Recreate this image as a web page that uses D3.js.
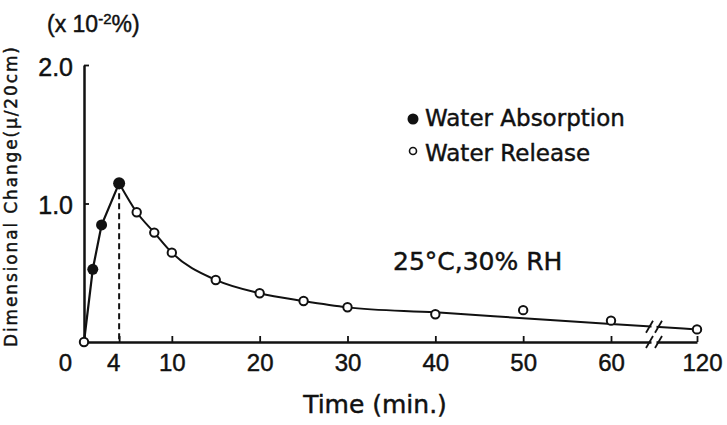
<!DOCTYPE html>
<html lang="en">
<head>
<meta charset="utf-8">
<title>Dimensional change</title>
<script src="https://d3js.org/d3.v7.min.js"></script>
<style>
  body { margin: 0; padding: 0; background: #fff; overflow: hidden; }
  svg { display: block; }
  text { stroke: #111; stroke-width: 0.45px; }
</style>
</head>
<body>
<svg id="chart"></svg>
<script>
// absorption points (filled) and release points (open)
const absorbTime = [1, 2, 4];
const absorbValue = [0.525, 0.845, 1.147];

const releaseTime = [0, 6, 8, 10, 15, 20, 25, 30, 40, 50, 60, 120];
const releaseValue = [0, 0.937, 0.79, 0.645, 0.448, 0.352, 0.296, 0.251, 0.20, 0.23, 0.154, 0.091];

// hand-drawn fitted curve through the release data
const fitTime = [4, 6, 8, 10, 15, 20, 25, 30, 40, 50, 60, 120];
const fitValue = [1.147, 0.937, 0.79, 0.645, 0.448, 0.352, 0.296, 0.25, 0.214, 0.172, 0.13, 0.091];

// rising part: straight segments from the origin to the peak
const riseTime = [0, 1, 2, 4];
const riseValue = [0, 0.525, 0.845, 1.147];

const xTicks = [0, 4, 10, 20, 30, 40, 50, 60, 120];
const yTicks = [1.0, 2.0];
const breakAt = 90;

const width = 727, height = 425;
const svg = d3.select("#chart").attr("width", width).attr("height", height);
svg.append("rect").attr("width", width).attr("height", height).attr("fill", "#fff");

// x axis is broken between 60 and 120
const x = d3.scaleLinear().domain([0, 60, 120]).range([84, 611, 697]);
const y = d3.scaleLinear().domain([0, 2]).range([342, 65]);

const ink = "#111";

// axes
const xAxis = svg.append("g")
    .attr("transform", `translate(0,${y(0)})`)
    .call(d3.axisBottom(x).tickValues(xTicks).tickSizeInner(-6).tickSizeOuter(0).tickPadding(12));
xAxis.select(".domain").attr("stroke", ink).attr("stroke-width", 2.5);
xAxis.selectAll(".tick line").attr("stroke", ink).attr("stroke-width", 1.8);
xAxis.selectAll(".tick").filter(d => d === 0).select("line").remove();
xAxis.selectAll(".tick text")
    .attr("font-family", "'Liberation Sans', Arial, sans-serif")
    .attr("font-size", 24)
    .attr("fill", ink)
    .attr("dx", d => d === 0 ? -19 : d === 4 ? -6 : d === 120 ? 5 : 0);

const yAxis = svg.append("g")
    .attr("transform", `translate(${x(0)},0)`)
    .call(d3.axisLeft(y).tickValues(yTicks).tickSizeInner(-5).tickSizeOuter(0).tickPadding(11)
        .tickFormat(d3.format(".1f")));
yAxis.select(".domain").attr("stroke", ink).attr("stroke-width", 2.5);
yAxis.selectAll(".tick line").attr("stroke", ink).attr("stroke-width", 1.8);
yAxis.selectAll(".tick text")
    .attr("font-family", "'Liberation Sans', Arial, sans-serif")
    .attr("font-size", 25)
    .attr("fill", ink)
    .attr("dy", "0.4em");

// dashed drop line from the peak
svg.append("line")
    .attr("x1", x(4)).attr("x2", x(4))
    .attr("y1", y(1.147)).attr("y2", y(0))
    .attr("stroke", ink).attr("stroke-width", 2)
    .attr("stroke-dasharray", "6,4");

// rising line
const riseLine = d3.line().x((d, i) => x(riseTime[i])).y((d, i) => y(riseValue[i]));
svg.append("path")
    .attr("d", riseLine(riseValue))
    .attr("fill", "none").attr("stroke", ink).attr("stroke-width", 2.2);

// fitted release curve
const fitLine = d3.line()
    .x((d, i) => x(fitTime[i]))
    .y((d, i) => y(fitValue[i]))
    .curve(d3.curveMonotoneX);
svg.append("path")
    .attr("d", fitLine(fitValue))
    .attr("fill", "none").attr("stroke", ink).attr("stroke-width", 2);

// axis break marks (on the curve and on the axis)
const bx = x(breakAt);
const fitAtBreak = fitValue[10] + (fitValue[11] - fitValue[10]) * (bx - x(60)) / (x(120) - x(60));
const breakRows = [y(fitAtBreak), y(0)];
breakRows.forEach(by => {
  svg.append("rect")
      .attr("x", bx - 2.5).attr("y", by - 4).attr("width", 5).attr("height", 8)
      .attr("fill", "#fff");
  [-4.5, 4.5].forEach(off => {
    svg.append("line")
        .attr("x1", bx + off - 3.5).attr("y1", by + 6)
        .attr("x2", bx + off + 3.5).attr("y2", by - 6)
        .attr("stroke", ink).attr("stroke-width", 1.8);
  });
});

// points
svg.append("g").selectAll("circle")
    .data(releaseValue)
    .join("circle")
    .attr("cx", (d, i) => x(releaseTime[i]))
    .attr("cy", d => y(d))
    .attr("r", 4.2)
    .attr("fill", "#fff").attr("stroke", ink).attr("stroke-width", 2);

svg.append("g").selectAll("circle")
    .data(absorbValue)
    .join("circle")
    .attr("cx", (d, i) => x(absorbTime[i]))
    .attr("cy", d => y(d))
    .attr("r", (d, i) => i === absorbValue.length - 1 ? 6 : 5.5)
    .attr("fill", ink);

// legend
const textFont = "'DejaVu Sans', sans-serif";
svg.append("circle").attr("cx", 413).attr("cy", 119).attr("r", 5.5).attr("fill", ink);
svg.append("circle").attr("cx", 413).attr("cy", 151).attr("r", 3.5)
    .attr("fill", "#fff").attr("stroke", ink).attr("stroke-width", 1.6);
svg.append("text").attr("x", 425).attr("y", 126)
    .attr("font-family", textFont).attr("font-size", 23).attr("fill", ink)
    .text("Water Absorption");
svg.append("text").attr("x", 425).attr("y", 161)
    .attr("font-family", textFont).attr("font-size", 23).attr("fill", ink)
    .text("Water Release");

// condition note
svg.append("text").attr("x", 393).attr("y", 270)
    .attr("font-family", textFont).attr("font-size", 25).attr("fill", ink)
    .text("25°C,30% RH");

// axis titles
svg.append("text")
    .attr("x", 375).attr("y", 413)
    .attr("text-anchor", "middle")
    .attr("font-family", textFont).attr("font-size", 25).attr("fill", ink)
    .text("Time (min.)");

svg.append("text")
    .attr("transform", "translate(17,197) rotate(-90)")
    .attr("text-anchor", "middle")
    .attr("font-family", textFont).attr("font-size", 17).attr("fill", ink)
    .attr("textLength", 300).attr("lengthAdjust", "spacing")
    .text("Dimensional Change(μ/20cm)");

const unit = svg.append("text")
    .attr("x", 47).attr("y", 32)
    .attr("font-family", "'Liberation Sans', Arial, sans-serif")
    .attr("font-size", 23).attr("fill", ink);
unit.append("tspan").text("(x 10");
unit.append("tspan").attr("font-size", 15).attr("dy", -8).text("-2");
unit.append("tspan").attr("dy", 8).text("%)");
</script>
</body>
</html>
